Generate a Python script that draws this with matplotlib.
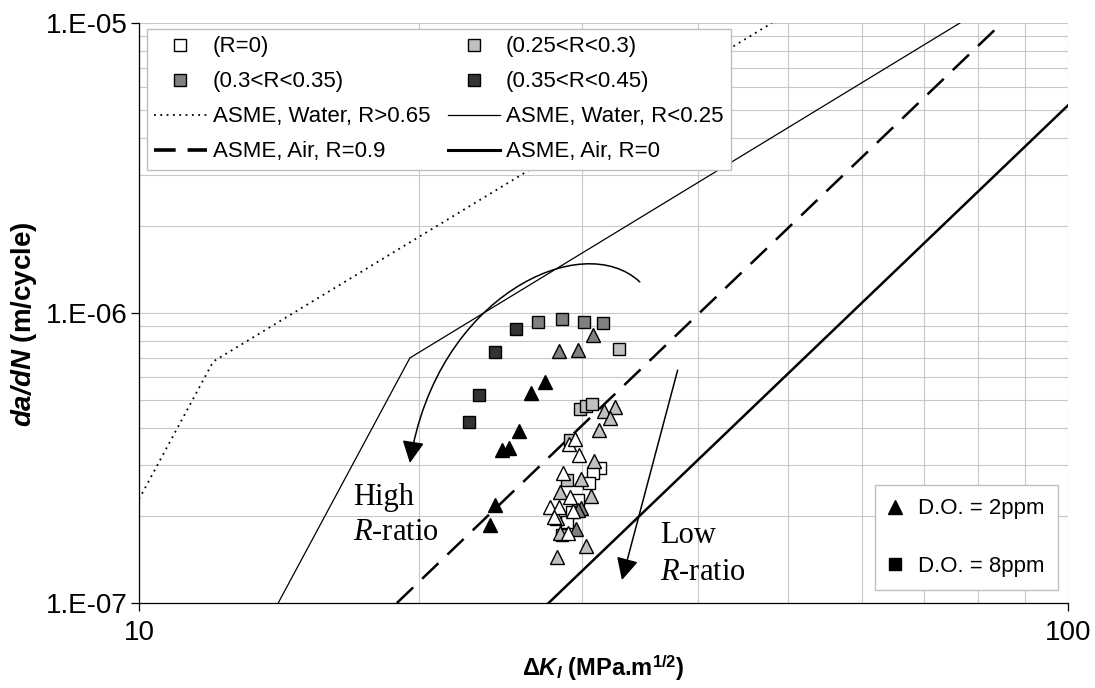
import matplotlib
matplotlib.use("Agg")
import matplotlib.pyplot as plt
from matplotlib.lines import Line2D
from matplotlib.patches import FancyArrowPatch
from matplotlib.path import Path
from matplotlib.ticker import LogLocator, NullFormatter, FixedLocator, FixedFormatter

plt.rcParams["font.family"] = "Liberation Sans"
plt.rcParams["mathtext.fontset"] = "custom"
plt.rcParams["mathtext.rm"] = "Liberation Sans"
plt.rcParams["mathtext.bf"] = "Liberation Sans:bold"
plt.rcParams["mathtext.bfit"] = "Liberation Sans:bold:italic"
plt.rcParams["mathtext.it"] = "Liberation Serif:italic"

# ASME reference curves (dK in MPa.m^1/2, da/dN in m/cycle)
water_hi_dk = [10.0, 12.02, 48.0]
water_hi_da = [2.28e-7, 6.8e-7, 1.0e-5]
water_lo_dk = [14.12, 19.57, 76.5]
water_lo_da = [1.0e-7, 7.0e-7, 1.0e-5]
air_r09_dk = [18.95, 84.9]
air_r09_da = [1.0e-7, 1.0e-5]
air_r0_dk = [27.6, 100.0]
air_r0_da = [1.0e-7, 5.2e-6]

# D.O. = 8ppm (squares)
sq_dark_dk = [25.46, 24.17, 23.23, 22.65]
sq_dark_da = [8.81e-7, 7.34e-7, 5.22e-7, 4.21e-7]
sq_mid_dk = [26.88, 28.53, 30.13, 31.59]
sq_mid_da = [9.31e-7, 9.54e-7, 9.31e-7, 9.24e-7]
sq_light_dk = [32.86, 29.83, 30.28, 30.74, 29.10, 28.89, 28.53]
sq_light_da = [7.51e-7, 4.67e-7, 4.78e-7, 4.86e-7, 3.65e-7, 2.65e-7, 1.72e-7]
sq_white_dk = [31.35, 30.81, 30.51, 29.69, 29.24, 28.89]
sq_white_da = [2.92e-7, 2.81e-7, 2.59e-7, 2.26e-7, 2.06e-7, 1.90e-7]

# D.O. = 2ppm (triangles)
tri_dark_dk = [27.35, 26.42, 25.65, 24.59, 25.02, 24.17, 23.87]
tri_dark_da = [5.76e-7, 5.30e-7, 3.92e-7, 3.37e-7, 3.42e-7, 2.18e-7, 1.86e-7]
tri_mid_dk = [30.81, 28.32, 29.69, 29.91, 29.69, 29.54]
tri_mid_da = [8.40e-7, 7.40e-7, 7.45e-7, 2.13e-7, 2.09e-7, 1.80e-7]
tri_light_dk = [31.66, 32.54, 32.14, 31.27, 30.89, 29.91, 28.39, 30.66, 28.18, 28.39, 30.28, 28.18]
tri_light_da = [4.59e-7, 4.74e-7, 4.34e-7, 3.95e-7, 3.09e-7, 2.68e-7, 2.41e-7, 2.34e-7,
                1.96e-7, 1.74e-7, 1.57e-7, 1.44e-7]
tri_white_dk = [29.03, 29.46, 29.76, 28.60, 29.10, 27.69, 28.32, 29.32, 27.97, 28.96]
tri_white_da = [3.53e-7, 3.68e-7, 3.24e-7, 2.81e-7, 2.32e-7, 2.14e-7, 2.14e-7, 2.08e-7,
                1.98e-7, 1.74e-7]

c_white, c_light, c_mid, c_dark = "white", "#C0C0C0", "#808080", "#333333"

fig = plt.figure(figsize=(10.95, 6.88), dpi=100)
ax = fig.add_axes([139 / 1095, 1 - 603 / 688, 929 / 1095, 580 / 688])
ax.set_xscale("log")
ax.set_yscale("log")
ax.set_xlim(10, 100)
ax.set_ylim(1e-7, 1e-5)

ax.xaxis.set_major_locator(FixedLocator([10, 100]))
ax.xaxis.set_major_formatter(FixedFormatter(["10", "100"]))
ax.yaxis.set_major_locator(FixedLocator([1e-7, 1e-6, 1e-5]))
ax.yaxis.set_major_formatter(FixedFormatter(["1.E-07", "1.E-06", "1.E-05"]))
ax.xaxis.set_minor_locator(LogLocator(base=10, subs=range(2, 10)))
ax.yaxis.set_minor_locator(LogLocator(base=10, subs=range(2, 10)))
ax.xaxis.set_minor_formatter(NullFormatter())
ax.yaxis.set_minor_formatter(NullFormatter())
ax.tick_params(which="minor", length=0)
ax.tick_params(which="major", length=5.5, width=0.9, labelsize=20, direction="out")
ax.tick_params(axis="x", pad=7)
ax.tick_params(axis="y", pad=2.5)
ax.grid(True, which="both", color="#C8C8C8", lw=0.8)
ax.set_axisbelow(True)
for s in ["top", "right"]:
    ax.spines[s].set_visible(False)
for s in ["left", "bottom"]:
    ax.spines[s].set_linewidth(0.9)

# ASME curves
ax.plot(water_hi_dk, water_hi_da, color="black", lw=1.3, ls=(0, (1, 2.5)))
ax.plot(water_lo_dk, water_lo_da, color="black", lw=0.9)
ax.plot(air_r09_dk, air_r09_da, color="black", lw=1.8, ls=(0, (9, 5)))
ax.plot(air_r0_dk, air_r0_da, color="black", lw=1.8)

mk = dict(ls="none", mec="black", mew=1.0)
ax.plot(sq_dark_dk, sq_dark_da, marker="s", ms=9, mfc=c_dark, **mk)
ax.plot(sq_mid_dk, sq_mid_da, marker="s", ms=9, mfc=c_mid, **mk)
ax.plot(sq_light_dk, sq_light_da, marker="s", ms=9, mfc=c_light, **mk)
ax.plot(sq_white_dk, sq_white_da, marker="s", ms=9, mfc=c_white, **mk)
ax.plot(tri_light_dk, tri_light_da, marker="^", ms=10, mfc=c_light, **mk)
ax.plot(tri_mid_dk, tri_mid_da, marker="^", ms=10, mfc=c_mid, **mk)
ax.plot(tri_white_dk, tri_white_da, marker="^", ms=10, mfc=c_white, **mk)
ax.plot(tri_dark_dk, tri_dark_da, marker="^", ms=10, mfc="black", **mk)

# curved arrow (high R-ratio)
arc = Path([(34.6, 1.28e-6), (30.0, 1.96e-6), (20.9, 1.15e-6), (19.57, 3.04e-7)],
           [Path.MOVETO, Path.CURVE4, Path.CURVE4, Path.CURVE4])
ax.add_patch(FancyArrowPatch(path=arc, arrowstyle="-|>,head_length=0.9,head_width=0.45",
                             mutation_scale=15, lw=1.1, color="black"))
ax.annotate("", xy=(33.1, 1.2e-7), xytext=(38.0, 6.35e-7),
            arrowprops=dict(arrowstyle="-|>,head_length=0.9,head_width=0.45",
                            mutation_scale=15, lw=1.1, color="black",
                            shrinkA=0, shrinkB=0))

serif = dict(family="Liberation Serif", fontsize=22, va="baseline", ha="left")
ax.text(17.0, 2.18e-7, "High", **serif)
ax.text(17.0, 1.65e-7, "$R$-ratio", **serif)
ax.text(36.4, 1.61e-7, "Low", **serif)
ax.text(36.4, 1.20e-7, "$R$-ratio", **serif)

ax.set_ylabel(r"$\mathbfit{da/dN}$ (m/cycle)", fontsize=20, fontweight="bold")
ax.yaxis.set_label_coords(-0.108, 0.48)
ax.set_xlabel(r"$\mathbf{\Delta}\mathbfit{K}_{\mathbfit{I}}$ (MPa.m$^{\mathbf{1/2}}$)",
              fontsize=17, fontweight="bold")
ax.xaxis.set_label_coords(0.5, -0.087)

def sq(c):
    return Line2D([], [], ls="none", marker="s", ms=9, mfc=c, mec="black", mew=1.0)

h1 = [sq(c_white), sq(c_mid),
      Line2D([], [], color="black", lw=1.3, ls=(0, (1, 2.5))),
      Line2D([], [], color="black", lw=2.6, ls=(0, (6, 3.3))),
      sq(c_light), sq(c_dark),
      Line2D([], [], color="black", lw=0.9),
      Line2D([], [], color="black", lw=2.2)]
l1 = ["(R=0)", "(0.3<R<0.35)", "ASME, Water, R>0.65", "ASME, Air, R=0.9",
      "(0.25<R<0.3)", "(0.35<R<0.45)", "ASME, Water, R<0.25", "ASME, Air, R=0"]
leg1 = ax.legend(h1, l1, ncol=2, loc="upper left", bbox_to_anchor=(0.0086, 0.9897),
                 borderaxespad=0, fontsize=16, handlelength=2.35, handletextpad=0.27,
                 columnspacing=0.8, labelspacing=0.63, borderpad=0.33,
                 fancybox=False, framealpha=1, edgecolor="#BFBFBF")
leg1.get_frame().set_linewidth(1.0)
ax.add_artist(leg1)

h2 = [Line2D([], [], ls="none", marker="^", ms=10, color="black"),
      Line2D([], [], ls="none", marker="s", ms=9, color="black")]
leg2 = ax.legend(h2, ["D.O. = 2ppm", "D.O. = 8ppm"], loc="lower right",
                 bbox_to_anchor=(0.989, 0.0224), borderaxespad=0, fontsize=16,
                 handlelength=0.6, handletextpad=0.74, labelspacing=1.63, borderpad=0.6,
                 fancybox=False, framealpha=1, edgecolor="#BFBFBF")
leg2.get_frame().set_linewidth(1.0)

fig.savefig("out.png", dpi=100)
